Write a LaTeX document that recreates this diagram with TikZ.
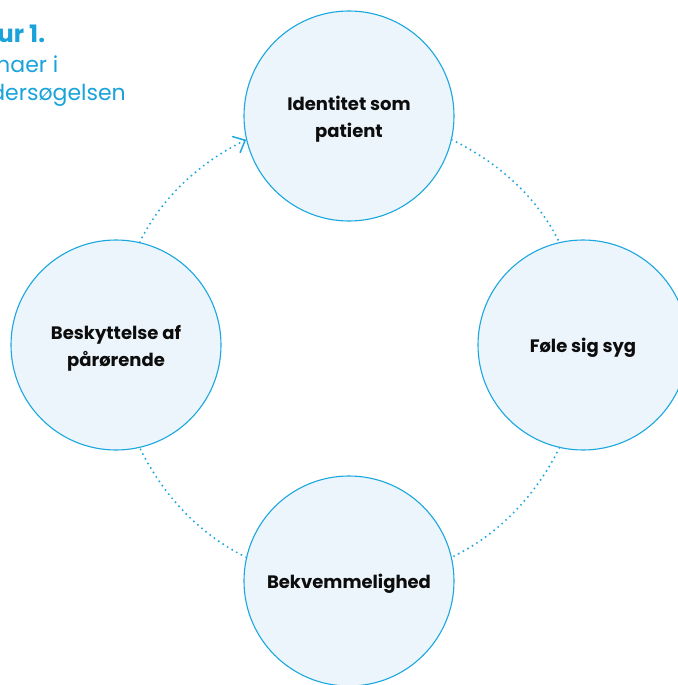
\documentclass[tikz,border=0pt]{standalone}
\usepackage{fontspec}
\setmainfont{Poppins}
\usetikzlibrary{arrows.meta}
\definecolor{cyanline}{HTML}{1AA7DF}
\definecolor{cyandot}{HTML}{1FA7E0}
\definecolor{bubble}{HTML}{ECF5FB}
\definecolor{titlecol}{HTML}{1AA3DB}
\definecolor{inkcol}{HTML}{0D0D0D}
\tikzset{
  bubblenode/.style={circle, minimum size=210pt, inner sep=0pt, draw=cyanline, line width=1.1pt, fill=bubble},
  bubbletext/.style={inner sep=0pt, text=inkcol, align=center, font=\bfseries\fontsize{18}{27}\selectfont, yshift=-3pt},
  dotline/.style={draw=cyandot, line width=2.2pt, line cap=round, dash pattern=on 0pt off 5.3pt, looseness=0.875},
  titlebold/.style={anchor=base west, inner sep=0pt, text=titlecol, font=\bfseries\fontsize{24}{24}\selectfont},
  titleplain/.style={anchor=base west, inner sep=0pt, text=titlecol, font=\fontsize{22}{22}\selectfont},
}
\begin{document}
\begin{tikzpicture}[x=1pt,y=-1pt]
\useasboundingbox (0,0) rectangle (677,685);
\fill[white] (0,0) rectangle (677,685);
% title (cut by the left edge)
\node[titlebold] (t1) at (-39,43) {Figur 1.};
\node[titleplain] (t2) at (-38,72) {Temaer i};
\node[titleplain] (t3) at (-38,100) {undersøgelsen};
% bubbles
\node[bubblenode] (T) at (349,116) {};
\node[bubblenode] (R) at (583,345) {};
\node[bubblenode] (B) at (349,581) {};
\node[bubblenode] (L) at (116,345) {};
\node[bubbletext] (Tt) at (T) {Identitet som\\patient};
\node[bubbletext] (Rt) at (R) {Føle sig syg};
\node[bubbletext] (Bt) at (B) {Bekvemmelighed};
\node[bubbletext] (Lt) at (L) {Beskyttelse af\\pårørende};
% connectors (arcs of one large circle)
\draw[dotline, -{Straight Barb[length=10pt,width=18pt,line width=1.5pt]}] (L.77) to[out=64, in=206] (T.193);
\draw[dotline] (T.347) to[out=334, in=116] (R.103);
\draw[dotline] (R.257) to[out=244, in=26] (B.13);
\draw[dotline] (B.167) to[out=154, in=296] (L.283);
\end{tikzpicture}
\end{document}
